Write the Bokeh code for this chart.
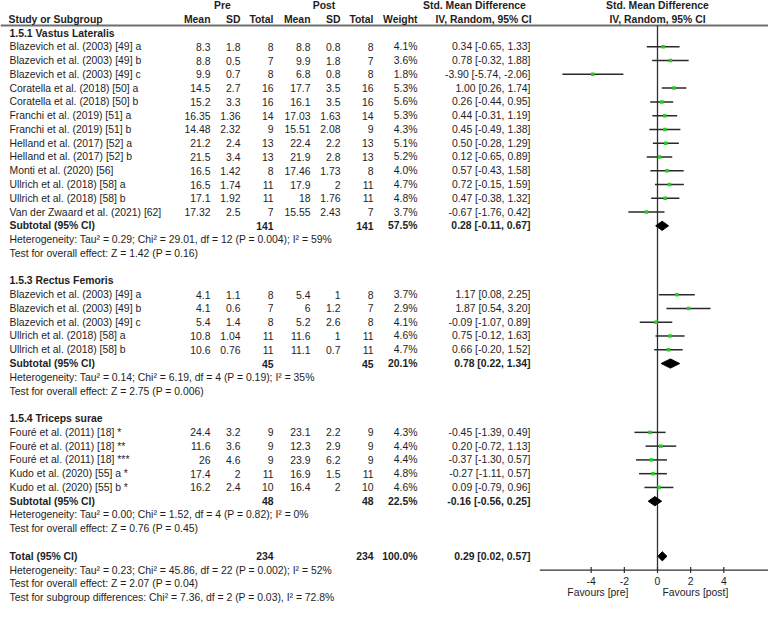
from bokeh.plotting import figure
from bokeh.models import Range1d
from bokeh.core.properties import value
from bokeh.embed import file_html
from bokeh.resources import INLINE

# ---------------- data ----------------
vl_title = "1.5.1 Vastus Lateralis"
vl_names = ["Blazevich et al. (2003) [49] a", "Blazevich et al. (2003) [49] b",
            "Blazevich et al. (2003) [49] c", "Coratella et al. (2018)  [50] a",
            "Coratella et al. (2018) [50] b", "Franchi et al. (2019) [51] a",
            "Franchi et al. (2019) [51] b", "Helland et al. (2017) [52] a",
            "Helland et al. (2017) [52] b", "Monti et al. (2020) [56]",
            "Ullrich et al. (2018) [58] a", "Ullrich et al. (2018) [58] b",
            "Van der Zwaard et al. (2021) [62]"]
vl_pre_mean = [8.3, 8.8, 9.9, 14.5, 15.2, 16.35, 14.48, 21.2, 21.5, 16.5, 16.5, 17.1, 17.32]
vl_pre_sd = [1.8, 0.5, 0.7, 2.7, 3.3, 1.36, 2.32, 2.4, 3.4, 1.42, 1.74, 1.92, 2.5]
vl_pre_n = [8, 7, 8, 16, 16, 14, 9, 13, 13, 8, 11, 11, 7]
vl_post_mean = [8.8, 9.9, 6.8, 17.7, 16.1, 17.03, 15.51, 22.4, 21.9, 17.46, 17.9, 18, 15.55]
vl_post_sd = [0.8, 1.8, 0.8, 3.5, 3.5, 1.63, 2.08, 2.2, 2.8, 1.73, 2, 1.76, 2.43]
vl_post_n = [8, 7, 8, 16, 16, 14, 9, 13, 13, 8, 11, 11, 7]
vl_weight = [4.1, 3.6, 1.8, 5.3, 5.6, 5.3, 4.3, 5.1, 5.2, 4.0, 4.7, 4.8, 3.7]
vl_smd = [0.34, 0.78, -3.90, 1.00, 0.26, 0.44, 0.45, 0.50, 0.12, 0.57, 0.72, 0.47, -0.67]
vl_lo = [-0.65, -0.32, -5.74, 0.26, -0.44, -0.31, -0.49, -0.28, -0.65, -0.43, -0.15, -0.38, -1.76]
vl_hi = [1.33, 1.88, -2.06, 1.74, 0.95, 1.19, 1.38, 1.29, 0.89, 1.58, 1.59, 1.32, 0.42]

rf_title = "1.5.3 Rectus Femoris"
rf_names = ["Blazevich et al. (2003) [49] a", "Blazevich et al. (2003) [49] b",
            "Blazevich et al. (2003) [49] c", "Ullrich et al. (2018) [58] a",
            "Ullrich et al. (2018) [58] b"]
rf_pre_mean = [4.1, 4.1, 5.4, 10.8, 10.6]
rf_pre_sd = [1.1, 0.6, 1.4, 1.04, 0.76]
rf_pre_n = [8, 7, 8, 11, 11]
rf_post_mean = [5.4, 6, 5.2, 11.6, 11.1]
rf_post_sd = [1, 1.2, 2.6, 1, 0.7]
rf_post_n = [8, 7, 8, 11, 11]
rf_weight = [3.7, 2.9, 4.1, 4.6, 4.7]
rf_smd = [1.17, 1.87, -0.09, 0.75, 0.66]
rf_lo = [0.08, 0.54, -1.07, -0.12, -0.20]
rf_hi = [2.25, 3.20, 0.89, 1.63, 1.52]

ts_title = "1.5.4 Triceps surae"
ts_names = ["Fouré et al. (2011) [18] *", "Fouré et al. (2011) [18] **",
            "Fouré et al. (2011) [18] ***", "Kudo et al. (2020) [55] a *",
            "Kudo et al. (2020) [55] b *"]
ts_pre_mean = [24.4, 11.6, 26, 17.4, 16.2]
ts_pre_sd = [3.2, 3.6, 4.6, 2, 2.4]
ts_pre_n = [9, 9, 9, 11, 10]
ts_post_mean = [23.1, 12.3, 23.9, 16.9, 16.4]
ts_post_sd = [2.2, 2.9, 6.2, 1.5, 2]
ts_post_n = [9, 9, 9, 11, 10]
ts_weight = [4.3, 4.4, 4.4, 4.8, 4.6]
ts_smd = [-0.45, 0.20, -0.37, -0.27, 0.09]
ts_lo = [-1.39, -0.72, -1.30, -1.11, -0.79]
ts_hi = [0.49, 1.13, 0.57, 0.57, 0.96]

sub_pre_n = [141, 45, 48]
sub_post_n = [141, 45, 48]
sub_weight = [57.5, 20.1, 22.5]
sub_smd = [0.28, 0.78, -0.16]
sub_lo = [-0.11, 0.22, -0.56]
sub_hi = [0.67, 1.34, 0.25]
sub_het = ["Heterogeneity: Tau\u00b2 = 0.29; Chi\u00b2 = 29.01, df = 12 (P = 0.004); I\u00b2 = 59%",
           "Heterogeneity: Tau\u00b2 = 0.14; Chi\u00b2 = 6.19, df = 4 (P = 0.19); I\u00b2 = 35%",
           "Heterogeneity: Tau\u00b2 = 0.00; Chi\u00b2 = 1.52, df = 4 (P = 0.82); I\u00b2 = 0%"]
sub_test = ["Test for overall effect: Z = 1.42 (P = 0.16)",
            "Test for overall effect: Z = 2.75 (P = 0.006)",
            "Test for overall effect: Z = 0.76 (P = 0.45)"]

total_pre_n = 234
total_post_n = 234
total_weight = 100.0
total_smd = 0.29
total_lo = 0.02
total_hi = 0.57
total_lines = ["Heterogeneity: Tau\u00b2 = 0.23; Chi\u00b2 = 45.86, df = 22 (P = 0.002); I\u00b2 = 52%",
               "Test for overall effect: Z = 2.07 (P = 0.04)",
               "Test for subgroup differences: Chi\u00b2 = 7.36, df = 2 (P = 0.03), I\u00b2 = 72.8%"]

axis_ticks = [-4, -2, 0, 2, 4]
axis_min, axis_max = -7.1, 7.1
favours_left = "Favours [pre]"
favours_right = "Favours [post]"

# ---------------- layout ----------------
W, H = 768, 604
ZERO_PX = 657.0              # x of SMD = 0 (pixel columns)
PX_PER_UNIT = 16.575
PITCH = 13.77                # px per row
TOP_ROW = -1.0 - 5.0 / PITCH # row at frame top
FONT = "Liberation Sans"
FS = "10.4px"
TXT = "#1e1e1e"
GREEN = "#1ed21e"

COL_STUDY = 9
COL_PRE_MEAN, COL_PRE_SD, COL_PRE_N = 210, 240, 273
COL_POST_MEAN, COL_POST_SD, COL_POST_N = 310, 340, 373
COL_WEIGHT = 417
COL_CI = 530

p = figure(width=W, height=H,
           x_range=Range1d(0, W),
           y_range=Range1d(TOP_ROW + H / PITCH, TOP_ROW),
           x_axis_type=None, y_axis_type=None,
           output_backend="svg", toolbar_location=None, min_border=0,
           outline_line_color=None)
p.grid.visible = False
p.extra_x_ranges = {"smd": Range1d((0 - ZERO_PX) / PX_PER_UNIT,
                                   (W - ZERO_PX) / PX_PER_UNIT)}

buckets = {}


def put(x, r, s, align="left", bold=False, rng="default"):
    key = (align, bold, rng)
    b = buckets.setdefault(key, ([], [], []))
    b[0].append(x)
    b[1].append(r)
    b[2].append(s)


def fmt(v):
    return f"{v:g}"


def ci(e, lo, hi):
    return f"{e:.2f} [{lo:.2f}, {hi:.2f}]"


# header
put(222, -1, "Pre", "center", True)
put(323.5, -1, "Post", "center", True)
put(474, -1, "Std. Mean Difference", "center", True)
put(0, -1, "Std. Mean Difference", "center", True, "smd")
put(COL_STUDY - 1, 0, "Study or Subgroup", "left", True)
for x, s in [(COL_PRE_MEAN, "Mean"), (COL_PRE_SD, "SD"), (COL_PRE_N, "Total"),
             (COL_POST_MEAN, "Mean"), (COL_POST_SD, "SD"), (COL_POST_N, "Total"),
             (COL_WEIGHT, "Weight")]:
    put(x, 0, s, "right", True)
put(483, 0, "IV, Random, 95% CI", "center", True)
put(0, 0, "IV, Random, 95% CI", "center", True, "smd")
RULE_ROW = 0.45

groups = [
    (vl_title, vl_names, vl_pre_mean, vl_pre_sd, vl_pre_n, vl_post_mean, vl_post_sd,
     vl_post_n, vl_weight, vl_smd, vl_lo, vl_hi),
    (rf_title, rf_names, rf_pre_mean, rf_pre_sd, rf_pre_n, rf_post_mean, rf_post_sd,
     rf_post_n, rf_weight, rf_smd, rf_lo, rf_hi),
    (ts_title, ts_names, ts_pre_mean, ts_pre_sd, ts_pre_n, ts_post_mean, ts_post_sd,
     ts_post_n, ts_weight, ts_smd, ts_lo, ts_hi),
]

st_y, st_x, st_lo, st_hi = [], [], [], []
dia = []  # (row, est, lo, hi)
row = 1
for gi, g in enumerate(groups):
    title, names, pm, psd, pn, qm, qsd, qn, wt, e, lo, hi = g
    put(COL_STUDY, row, title, "left", True)
    row += 1
    for i in range(len(names)):
        put(COL_STUDY, row, names[i])
        put(COL_PRE_MEAN, row, fmt(pm[i]), "right")
        put(COL_PRE_SD, row, fmt(psd[i]), "right")
        put(COL_PRE_N, row, fmt(pn[i]), "right")
        put(COL_POST_MEAN, row, fmt(qm[i]), "right")
        put(COL_POST_SD, row, fmt(qsd[i]), "right")
        put(COL_POST_N, row, fmt(qn[i]), "right")
        put(COL_WEIGHT, row, f"{wt[i]:.1f}%", "right")
        put(COL_CI, row, ci(e[i], lo[i], hi[i]), "right")
        st_y.append(row); st_x.append(e[i]); st_lo.append(lo[i]); st_hi.append(hi[i])
        row += 1
    put(COL_STUDY, row, "Subtotal (95% CI)", "left", True)
    put(COL_PRE_N, row, fmt(sub_pre_n[gi]), "right", True)
    put(COL_POST_N, row, fmt(sub_post_n[gi]), "right", True)
    put(COL_WEIGHT, row, f"{sub_weight[gi]:.1f}%", "right", True)
    put(COL_CI, row, ci(sub_smd[gi], sub_lo[gi], sub_hi[gi]), "right", True)
    dia.append((row, sub_smd[gi], sub_lo[gi], sub_hi[gi]))
    row += 1
    put(COL_STUDY, row, sub_het[gi]); row += 1
    put(COL_STUDY, row, sub_test[gi]); row += 1
    row += 1

put(COL_STUDY, row, "Total (95% CI)", "left", True)
put(COL_PRE_N, row, fmt(total_pre_n), "right", True)
put(COL_POST_N, row, fmt(total_post_n), "right", True)
put(COL_WEIGHT, row, f"{total_weight:.1f}%", "right", True)
put(COL_CI, row, ci(total_smd, total_lo, total_hi), "right", True)
dia.append((row, total_smd, total_lo, total_hi))
row += 1
AXIS_ROW = row
for s in total_lines:
    put(COL_STUDY, row, s)
    row += 1

# axis labels
for t in axis_ticks:
    put(t, AXIS_ROW + 0.8, fmt(t), "center", False, "smd")
put(-1.75, AXIS_ROW + 1.6, favours_left, "right", False, "smd")
put(0.3, AXIS_ROW + 1.6, favours_right, "left", False, "smd")

# rule under header
p.segment(x0=[0], y0=[RULE_ROW], x1=[W], y1=[RULE_ROW], line_color="#6e6e6e", line_width=2)

# zero line
p.segment(x0=[0], y0=[RULE_ROW], x1=[0], y1=[AXIS_ROW], x_range_name="smd",
          line_color="#303030", line_width=1.3)

# axis
p.segment(x0=[axis_min], y0=[AXIS_ROW], x1=[axis_max], y1=[AXIS_ROW], x_range_name="smd",
          line_color="#303030", line_width=1.2)
p.segment(x0=axis_ticks, y0=[AXIS_ROW - 0.22] * len(axis_ticks), x1=axis_ticks,
          y1=[AXIS_ROW + 0.22] * len(axis_ticks), x_range_name="smd",
          line_color="#303030", line_width=1.2)

# study CIs and squares
p.segment(x0=st_lo, y0=st_y, x1=st_hi, y1=st_y, x_range_name="smd",
          line_color="#2a2a2a", line_width=1.5)
p.scatter(x=st_x, y=st_y, marker="square", size=3.5, fill_color=GREEN, line_color=None,
          x_range_name="smd")

# diamonds
DH = 4.6 / PITCH
p.patches(xs=[[lo, e, hi, e] for (r, e, lo, hi) in dia],
          ys=[[r, r - DH, r, r + DH] for (r, e, lo, hi) in dia],
          x_range_name="smd", fill_color="black", line_color="black", line_width=1)

for (align, bold, rng), (xs, ys, ss) in buckets.items():
    kw = {} if rng == "default" else {"x_range_name": rng}
    p.text(x=xs, y=ys, text=ss, text_align=align, text_baseline="middle",
           text_font=value(FONT), text_font_size=FS,
           text_font_style="bold" if bold else "normal", text_color=TXT, **kw)

open("out.html", "w").write(file_html(p, INLINE))
